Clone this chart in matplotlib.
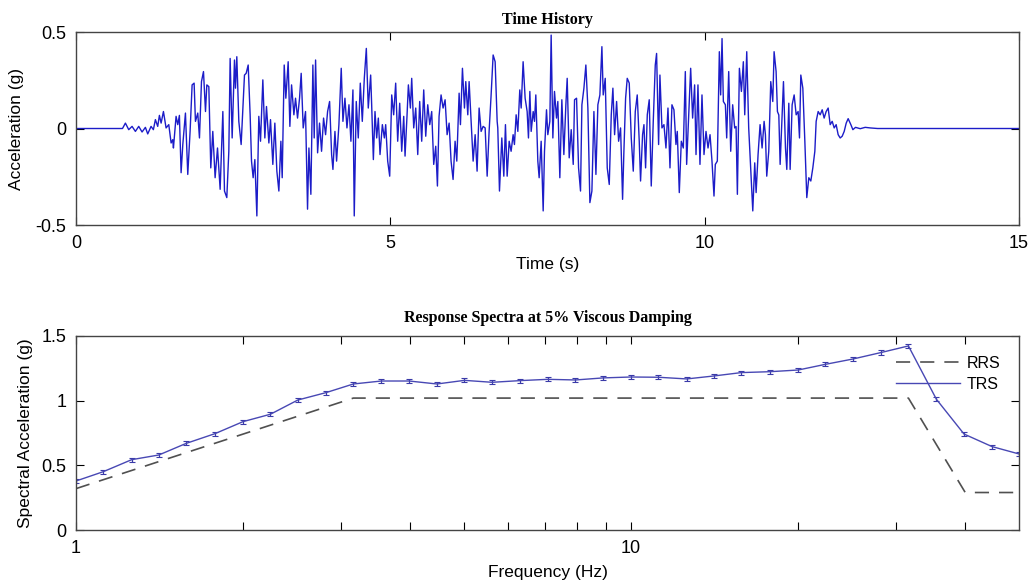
import numpy as np
import matplotlib
matplotlib.use('Agg')
import matplotlib.pyplot as plt
from matplotlib.lines import Line2D
from matplotlib.ticker import FixedLocator, NullFormatter

plt.rcParams['font.family'] = ['Liberation Sans', 'DejaVu Sans']
plt.rcParams['axes.unicode_minus'] = False

# --- time history (s, g) ---
t_seg1 = [0.0, 0.74, 0.786, 0.839, 0.892, 0.945, 0.998, 1.051, 1.104, 1.141, 1.194, 1.231,
          1.263, 1.300, 1.327, 1.354, 1.391, 1.433, 1.476, 1.513, 1.539, 1.550, 1.592, 1.619,
          1.645, 1.672, 1.699, 1.741, 1.778, 1.815, 1.847, 1.879, 1.900, 1.937, 1.964, 1.996,
          2.028, 2.060, 2.081, 2.113, 2.144, 2.176, 2.213, 2.251, 2.293, 2.336, 2.362, 2.399,
          2.431, 2.452, 2.484, 2.521, 2.537, 2.558, 2.590, 2.627, 2.680]
a_seg1 = [0.0, 0.0, 0.028, -0.006, 0.011, -0.015, 0.011, -0.018, 0.006, -0.028, 0.011, -0.006,
          0.046, 0.011, 0.068, 0.028, 0.088, 0.003, 0.020, -0.075, -0.058, -0.101, 0.063, 0.020,
          0.068, -0.229, -0.083, 0.080, -0.238, -0.015, 0.226, 0.235, 0.037, 0.080, -0.049, 0.243,
          0.295, 0.088, 0.226, 0.217, -0.204, -0.015, -0.255, -0.101, -0.315, 0.088, -0.324, -0.358,
          -0.118, 0.363, -0.049, 0.355, 0.209, 0.372, 0.037, -0.083, 0.277]

t_seg2 = [2.707, 2.739, 2.770, 2.792, 2.818, 2.845, 2.877, 2.908, 2.935, 2.972, 3.004, 3.030,
          3.068, 3.094, 3.131, 3.163, 3.195, 3.227, 3.259, 3.280, 3.312, 3.338, 3.375, 3.402,
          3.429, 3.466, 3.492, 3.524, 3.556, 3.582, 3.614, 3.651, 3.683, 3.705, 3.736, 3.768,
          3.789, 3.811, 3.843, 3.874, 3.906, 3.938, 3.970, 4.002, 4.034, 4.066, 4.087, 4.119,
          4.145, 4.182, 4.219, 4.246, 4.278, 4.310, 4.342, 4.373, 4.405, 4.426, 4.458, 4.490,
          4.522, 4.554, 4.586, 4.618, 4.649, 4.687]
a_seg2 = [0.286, 0.329, 0.071, -0.169, -0.255, -0.161, -0.453, 0.063, -0.066, 0.252, -0.049, 0.114,
          -0.075, 0.046, -0.186, 0.028, -0.221, -0.324, -0.066, -0.255, 0.329, 0.157, 0.346, 0.011,
          0.226, 0.071, 0.157, 0.054, 0.157, 0.286, 0.003, 0.088, -0.418, -0.101, -0.341, 0.329,
          -0.049, 0.355, -0.126, 0.028, -0.118, 0.054, -0.032, 0.088, 0.140, -0.135, -0.212, -0.015,
          -0.169, 0.020, 0.312, 0.037, 0.157, 0.003, 0.123, -0.066, 0.200, -0.453, 0.140, -0.049,
          0.235, 0.037, 0.260, 0.415, 0.106, 0.277]

t_seg3 = [4.703, 4.730, 4.756, 4.783, 4.809, 4.836, 4.873, 4.905, 4.926, 4.958, 4.990, 5.022,
          5.053, 5.085, 5.117, 5.149, 5.181, 5.213, 5.234, 5.266, 5.287, 5.319, 5.340, 5.372,
          5.404, 5.436, 5.467, 5.499, 5.531, 5.563, 5.595, 5.627, 5.658, 5.690, 5.722, 5.749,
          5.775, 5.807, 5.839, 5.871, 5.903, 5.935, 5.966, 5.998, 6.030, 6.057, 6.094, 6.115,
          6.147, 6.179, 6.200, 6.232, 6.253, 6.285, 6.317, 6.349, 6.380, 6.412, 6.444, 6.476,
          6.508, 6.540, 6.571, 6.603, 6.635, 6.667, 6.699]
a_seg3 = [0.123, -0.161, 0.088, -0.049, 0.054, -0.135, 0.020, -0.049, 0.020, -0.169, -0.247, 0.174,
          0.071, 0.235, -0.066, 0.131, -0.118, 0.063, -0.143, 0.071, 0.226, 0.106, 0.260, 0.003,
          0.106, -0.135, 0.140, -0.066, 0.200, -0.040, 0.123, 0.020, 0.088, -0.186, -0.092, -0.298,
          0.063, 0.174, 0.106, 0.149, -0.032, 0.028, -0.169, -0.264, -0.066, -0.169, 0.183, 0.020,
          0.312, 0.106, 0.243, 0.071, 0.243, 0.037, -0.169, -0.032, -0.221, 0.106, -0.015, 0.011,
          0.003, -0.247, -0.015, 0.174, 0.381, 0.346, 0.037]

t_seg4 = [6.709, 6.736, 6.773, 6.805, 6.831, 6.858, 6.890, 6.921, 6.953, 6.974, 7.001, 7.028,
          7.059, 7.081, 7.112, 7.144, 7.176, 7.197, 7.219, 7.240, 7.272, 7.293, 7.314, 7.346,
          7.367, 7.399, 7.431, 7.452, 7.484, 7.505, 7.537, 7.558, 7.585, 7.611, 7.643, 7.664,
          7.696, 7.728, 7.760, 7.792, 7.813, 7.845, 7.877, 7.909, 7.930, 7.962, 7.994, 8.025,
          8.047, 8.079, 8.110, 8.142, 8.174, 8.206, 8.238, 8.270, 8.301, 8.333, 8.365, 8.386,
          8.418, 8.450, 8.482, 8.514, 8.540, 8.567, 8.599, 8.631, 8.662, 8.694]
a_seg4 = [0.003, -0.324, -0.049, -0.247, 0.020, -0.247, -0.066, -0.118, -0.032, -0.083, 0.071, -0.015,
          0.200, 0.106, 0.346, 0.157, 0.088, -0.049, 0.192, -0.015, 0.088, 0.037, 0.174, -0.169,
          -0.255, -0.066, -0.427, -0.118, 0.097, -0.032, 0.037, 0.484, -0.049, 0.192, 0.054, 0.140,
          -0.255, 0.149, -0.135, 0.123, 0.260, -0.152, -0.006, -0.186, 0.149, 0.157, -0.204, -0.324,
          0.123, 0.209, 0.329, 0.106, -0.384, -0.324, 0.088, -0.238, 0.123, 0.174, 0.424, 0.174,
          0.260, -0.204, -0.290, 0.071, 0.209, -0.032, 0.140, -0.066, 0.003, -0.367]

t_seg5 = [8.715, 8.742, 8.768, 8.800, 8.832, 8.864, 8.896, 8.927, 8.959, 8.980, 9.012, 9.034,
          9.060, 9.087, 9.118, 9.150, 9.182, 9.214, 9.235, 9.267, 9.288, 9.320, 9.352, 9.384,
          9.416, 9.448, 9.479, 9.511, 9.543, 9.564, 9.596, 9.628, 9.660, 9.692, 9.713, 9.745,
          9.777, 9.808, 9.840, 9.862, 9.893, 9.925, 9.957, 9.989, 10.021, 10.053, 10.085, 10.116,
          10.148, 10.169, 10.201, 10.233, 10.254, 10.276, 10.297, 10.329, 10.350, 10.382, 10.414,
          10.445, 10.477, 10.499, 10.520, 10.552, 10.584, 10.615, 10.637, 10.669, 10.700]
a_seg5 = [-0.118, 0.157, 0.260, 0.235, -0.049, -0.221, 0.088, 0.174, -0.066, -0.272, -0.032, 0.020,
          -0.204, 0.071, 0.149, -0.298, 0.037, 0.329, 0.389, -0.083, 0.277, 0.003, 0.020, -0.101,
          0.106, -0.204, 0.123, 0.097, -0.083, -0.015, -0.332, -0.066, -0.101, 0.295, -0.186, 0.063,
          0.312, 0.054, 0.226, -0.135, 0.226, -0.186, 0.174, -0.135, -0.015, -0.101, -0.032, -0.169,
          -0.350, -0.186, -0.169, 0.398, 0.174, 0.466, 0.140, 0.123, -0.049, 0.295, -0.118,
          0.123, 0.003, 0.010, -0.341, 0.312, 0.192, 0.346, 0.071, 0.398, 0.003]

t_seg6 = [10.733, 10.765, 10.796, 10.818, 10.849, 10.881, 10.913, 10.945, 10.966, 10.987, 11.019,
          11.051, 11.083, 11.104, 11.136, 11.157, 11.179, 11.200, 11.221, 11.253, 11.285, 11.306,
          11.338, 11.359, 11.391, 11.423, 11.455, 11.486, 11.508, 11.529, 11.561, 11.593, 11.624,
          11.656, 11.688, 11.720, 11.752, 11.773, 11.805, 11.837, 11.869, 11.900, 11.932, 11.964,
          11.996, 12.028, 12.060, 12.091, 12.123, 12.155, 12.187, 12.219, 12.251, 12.282, 12.325,
          12.357, 12.399, 12.474, 12.553, 12.633, 12.75, 15.0]
a_seg6 = [-0.221, -0.427, -0.178, -0.332, -0.135, 0.020, -0.101, 0.037, -0.032, -0.247, -0.118,
          0.243, 0.140, 0.398, 0.295, 0.088, 0.070, -0.186, -0.015, 0.243, -0.101, -0.212,
          0.131, -0.212, 0.123, 0.174, 0.071, 0.088, -0.049, 0.277, 0.209, -0.066, -0.358,
          -0.255, -0.272, -0.204, -0.118, 0.037, 0.088, 0.071, 0.097, 0.054, 0.088, 0.106,
          0.020, 0.037, 0.003, 0.020, -0.032, -0.049, -0.040, -0.015, 0.028, 0.051, 0.020,
          -0.006, 0.006, -0.001, 0.006, 0.003, 0.0, 0.0]

# --- response spectra (Hz, g) ---
freq_hz = [1.0, 1.12, 1.26, 1.41, 1.58, 1.78, 2.0, 2.24, 2.51, 2.82, 3.16, 3.55, 3.98, 4.47,
           5.01, 5.62, 6.31, 7.08, 7.94, 8.91, 10.0, 11.2, 12.6, 14.1, 15.8, 17.8, 20.0, 22.4,
           25.1, 28.2, 31.6, 35.5, 39.8, 44.7, 50.0]
trs = [0.379, 0.451, 0.544, 0.58, 0.67, 0.745, 0.838, 0.895, 1.005, 1.062, 1.129, 1.152, 1.152,
       1.129, 1.157, 1.142, 1.155, 1.165, 1.160, 1.176, 1.183, 1.181, 1.168, 1.191, 1.217, 1.224,
       1.237, 1.281, 1.322, 1.372, 1.423, 1.01, 0.742, 0.645, 0.588]
trs_err = 0.016
rrs_freq = [1.0, 3.16, 31.6, 40.0, 50.0]
rrs = [0.32, 1.02, 1.02, 0.29, 0.29]

t = np.concatenate([t_seg1, t_seg2, t_seg3, t_seg4, t_seg5, t_seg6])
acc = np.concatenate([a_seg1, a_seg2, a_seg3, a_seg4, a_seg5, a_seg6])

blue = '#1c1cc8'
trs_col = '#4848b4'
rrs_col = '#505050'
rrs_dash = (8.5, 6.0)

fig = plt.figure(figsize=(10.31, 5.82), dpi=100)
ax1 = fig.add_axes([0.0737, 0.6134, 0.9147, 0.3316])
ax2 = fig.add_axes([0.0737, 0.0893, 0.9147, 0.3334])

title_font = dict(family='Liberation Serif', fontweight='bold', fontsize=11.5)

ax1.plot(t, acc, color=blue, lw=1.0)
ax1.set_xlim(0, 15)
ax1.set_ylim(-0.5, 0.5)
ax1.set_xticks([0, 5, 10, 15])
ax1.set_xticklabels(['0', '5', '10', '15'])
ax1.set_yticks([-0.5, 0, 0.5])
ax1.set_yticklabels(['-0.5', '0', '0.5'])
ax1.set_xlabel('Time (s)', fontsize=12.5, labelpad=4)
ax1.set_ylabel('Acceleration (g)', fontsize=12.5, labelpad=8)
ax1.set_title('Time History', pad=6, **title_font)

ax2.errorbar(freq_hz, trs, yerr=trs_err, color=trs_col, lw=1.0, elinewidth=0.9,
             capsize=2, capthick=0.8, ecolor='#3a3aa8')
ax2.plot(rrs_freq, rrs, color=rrs_col, lw=1.2, dashes=rrs_dash)
ax2.set_xscale('log')
ax2.set_xlim(1, 50)
ax2.set_ylim(0, 1.5)
ax2.xaxis.set_major_locator(FixedLocator([1, 10]))
ax2.set_xticklabels(['1', '10'])
ax2.xaxis.set_minor_locator(FixedLocator([2, 3, 4, 5, 6, 7, 8, 9, 20, 30, 40]))
ax2.xaxis.set_minor_formatter(NullFormatter())
ax2.set_yticks([0, 0.5, 1, 1.5])
ax2.set_yticklabels(['0', '0.5', '1', '1.5'])
ax2.set_xlabel('Frequency (Hz)', fontsize=12.5, labelpad=6)
ax2.set_ylabel('Spectral Acceleration (g)', fontsize=12.5, labelpad=6)
ax2.set_title('Response Spectra at 5% Viscous Damping', pad=10, **title_font)

handles = [Line2D([], [], color=rrs_col, lw=1.2, dashes=rrs_dash),
           Line2D([], [], color=trs_col, lw=1.0)]
ax2.legend(handles, ['RRS', 'TRS'], loc='upper right', bbox_to_anchor=(0.987, 0.93),
           frameon=False, fontsize=11.5, handlelength=4.0, handletextpad=0.4,
           labelspacing=0.35, borderaxespad=0)

for ax in (ax1, ax2):
    ax.tick_params(which='both', direction='in', top=True, right=True, length=6,
                   labelsize=13, width=0.8, pad=7)
    for s in ax.spines.values():
        s.set_color('#444444')
        s.set_linewidth(1.0)

fig.savefig('out.png', dpi=100)
